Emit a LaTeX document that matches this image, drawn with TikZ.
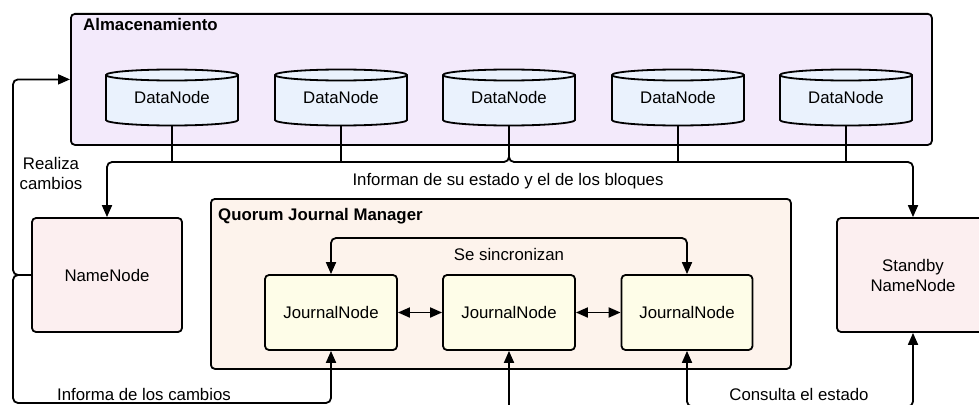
\documentclass[tikz,border=0pt]{standalone}
\usepackage{fontspec}
\setmainfont{Liberation Sans}
\usetikzlibrary{arrows.meta}
\definecolor{storefill}{HTML}{F3EAFB}
\definecolor{dnfill}{HTML}{EAF2FD}
\definecolor{nnfill}{HTML}{FCEFF0}
\definecolor{qfill}{HTML}{FDF3EC}
\definecolor{jnfill}{HTML}{FEFDE8}
\begin{document}
\begin{tikzpicture}[x=1pt,y=-1pt,
  font=\fontsize{16.8}{20}\selectfont,
  stroke/.style={line width=1.8pt, draw=black},
  group/.style={stroke, rounded corners=4pt, inner sep=0pt, anchor=north west},
  box/.style={stroke, rounded corners=4pt, inner sep=0pt, align=center},
  link/.style={line width=1.8pt, rounded corners=5pt},
  head/.tip={Triangle[length=12pt,width=10pt]},
  tip/.style={-head},
  tips/.style={head-head},
  label/.style={inner sep=0pt}
]
\useasboundingbox (0,0) rectangle (979,404);
\clip (0,0) rectangle (979,404);

% storage group with its DataNodes
\node[group, fill=storefill, minimum width=861pt, minimum height=131pt] (store) at (70,13) {};
\node[label, anchor=west, font=\fontsize{16.8}{20}\selectfont\bfseries] (storetitle) at (83,24) {Almacenamiento};

\foreach \i/\x in {1/172,2/341,3/509,4/678,5/846}{
  \filldraw[stroke, fill=dnfill] (\x-66,75) -- (\x-66,120)
    arc[start angle=180, end angle=0, x radius=66, y radius=5.5]
    -- (\x+66,75)
    arc[start angle=0, end angle=-180, x radius=66, y radius=5.5] -- cycle;
  \draw[stroke] (\x-66,75) arc[start angle=180, end angle=0, x radius=66, y radius=5.5];
  \node[inner sep=0pt, minimum width=132pt, minimum height=56pt] (dn\i) at (\x,97.5) {DataNode};
}

% NameNodes
\node[box, fill=nnfill, minimum width=150pt, minimum height=114pt] (nn) at (107,275) {NameNode};
\node[box, fill=nnfill, minimum width=152pt, minimum height=114pt] (sb) at (913,275) {Standby\\NameNode};

% quorum journal manager
\node[group, fill=qfill, minimum width=580pt, minimum height=170pt] (qjm) at (210,198) {};
\node[label, anchor=west, font=\fontsize{16.8}{20}\selectfont\bfseries] (qjmtitle) at (218,216) {Quorum Journal Manager};
\node[box, fill=jnfill, minimum width=132pt, minimum height=75pt] (jn1) at (331,312.5) {JournalNode};
\node[box, fill=jnfill, minimum width=132pt, minimum height=75pt] (jn2) at (509,312.5) {JournalNode};
\node[box, fill=jnfill, minimum width=131pt, minimum height=75pt] (jn3) at (687,312.5) {JournalNode};

% routing points
\coordinate (bus) at (509,162);
\coordinate (sync) at (509,238);
\coordinate (leftrail) at (13,275);
\coordinate (base) at (0,403);
\coordinate (lowbase) at (0,406.5);
\coordinate (jn2in) at (509,412);

% block reports from the DataNodes
\foreach \i in {1,2,4,5}{
  \draw[link] (dn\i.south) -- (dn\i.south |- bus);
}
\draw[link, tip] (dn3.south) |- (nn.north |- bus) -- (nn.north);
\draw[link, tip] (dn3.south) |- (sb.north |- bus) -- (sb.north);

% NameNode writes to storage and to the journal
\draw[link, tip] (nn.west) -- (leftrail) |- (store.west);
\draw[link, tip] (nn.west) -- (leftrail) |- (jn1.south |- base) -- (jn1.south);
\draw[link, tip] (jn2in) -- (jn2.south);
\draw[link, tips] (jn3.south) -- (jn3.south |- lowbase) -- (sb.south |- lowbase) -- (sb.south);

% JournalNodes keep in sync
\draw[link, tips] (jn1) -- (jn2);
\draw[link, tips] (jn2) -- (jn3);
\draw[link, tips] (jn1.north) -- (jn1.north |- sync) -- (jn3.north |- sync) -- (jn3.north);

% connector labels
\node[label] (lblreports) at (508,181) {Informan de su estado y el de los bloques};
\node[label, align=center] (lblwrites) at (51,173) {Realiza\\cambios};
\node[label] (lblsync) at (509,254) {Se sincronizan};
\node[label] (lblinform) at (144,394) {Informa de los cambios};
\node[label] (lblquery) at (799,394) {Consulta el estado};
\end{tikzpicture}
\end{document}
